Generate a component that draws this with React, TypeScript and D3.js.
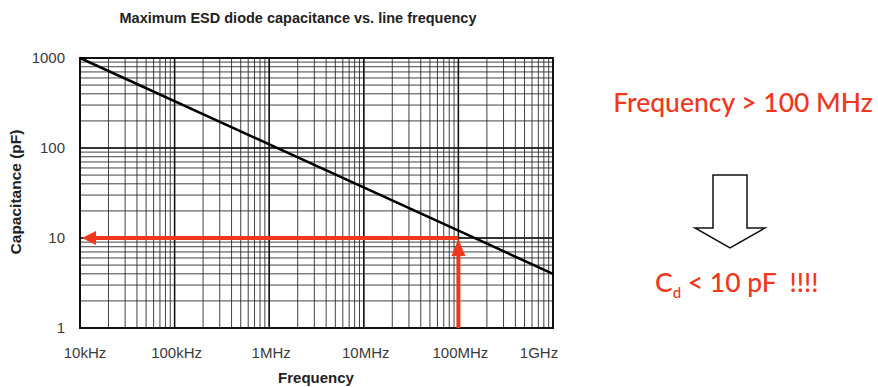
import React from "react";
import * as d3 from "d3";

const xTicks = [1e4, 1e5, 1e6, 1e7, 1e8, 1e9];
const xTickLabels = ["10kHz", "100kHz", "1MHz", "10MHz", "100MHz", "1GHz"];
const yTicks = [1, 10, 100, 1000];
const yTickLabels = ["1", "10", "100", "1000"];

// max capacitance line
const curveFreq = [1e4, 1e9];
const curveCap = [1000, 4];

// red marker: 100 MHz -> 10 pF
const markerFreq = 1e8;
const markerCap = 10;

const W = 878;
const H = 387;
const margin = { top: 58, right: 325, bottom: 59, left: 80 };
const RED = "#f0371c";

const App = () => {
  const x = d3.scaleLog().domain([1e4, 1e9]).range([margin.left, W - margin.right]);
  const y = d3.scaleLog().domain([1, 1000]).range([H - margin.bottom, margin.top]);

  const xMinor = x.ticks();
  const yMinor = y.ticks();

  const line = d3
    .line<number>()
    .x((_, i) => x(curveFreq[i]))
    .y((d) => y(d));

  const mx = x(markerFreq);
  const my = y(markerCap);
  const x0 = x.range()[0];
  const yBottom = y.range()[0];

  return (
    <svg width={W} height={H} style={{ position: "absolute", left: 0, top: 0 }} fontFamily="'Liberation Sans', Arial, sans-serif">
      <rect width={W} height={H} fill="#fff" />
      <text x={298} y={23} textAnchor="middle" fontSize={14.5} fontWeight="bold" fill="#222">
        Maximum ESD diode capacitance vs. line frequency
      </text>

      {/* grid */}
      {xMinor.map((d, i) => (
        <line key={"gx" + i} x1={x(d)} x2={x(d)} y1={margin.top} y2={yBottom} stroke="#222" strokeWidth={1} strokeOpacity={0.85} />
      ))}
      {yMinor.map((d, i) => (
        <line key={"gy" + i} x1={x0} x2={x.range()[1]} y1={y(d)} y2={y(d)} stroke="#222" strokeWidth={1} strokeOpacity={0.85} />
      ))}
      {xTicks.map((d, i) => (
        <line key={"mx" + i} x1={x(d)} x2={x(d)} y1={margin.top} y2={yBottom} stroke="#111" strokeWidth={1.5} />
      ))}
      {yTicks.map((d, i) => (
        <line key={"my" + i} x1={x0} x2={x.range()[1]} y1={y(d)} y2={y(d)} stroke="#111" strokeWidth={1.5} />
      ))}
      <rect x={x0} y={margin.top} width={x.range()[1] - x0} height={yBottom - margin.top} fill="none" stroke="#111" strokeWidth={2} />

      {/* curve */}
      <path d={line(curveCap) || ""} fill="none" stroke="#000" strokeWidth={2.5} />

      {/* red arrows */}
      <line x1={mx} x2={x0 + 14} y1={my} y2={my} stroke={RED} strokeWidth={4} />
      <path d={`M${x0 + 2},${my} L${x0 + 16},${my - 7} L${x0 + 16},${my + 7} Z`} fill={RED} />
      <line x1={mx} x2={mx} y1={yBottom} y2={my + 16} stroke={RED} strokeWidth={4} />
      <path d={`M${mx},${my + 1} L${mx - 7},${my + 18} L${mx + 7},${my + 18} Z`} fill={RED} />

      {/* tick labels */}
      {xTicks.map((d, i) => (
        <text key={"xl" + i} x={i === xTicks.length - 1 ? x(d) - 14 : x(d) + (i === 0 ? 5 : 2)} y={yBottom + 30} textAnchor="middle" fontSize={15} fill="#3a3a3a">
          {xTickLabels[i]}
        </text>
      ))}
      {yTicks.map((d, i) => (
        <text key={"yl" + i} x={x0 - 15} y={y(d) + 5} textAnchor="end" fontSize={15} fill="#3a3a3a">
          {yTickLabels[i]}
        </text>
      ))}

      <text x={316} y={383} textAnchor="middle" fontSize={15} fontWeight="bold" fill="#222">
        Frequency
      </text>
      <text transform={`translate(21,192) rotate(-90)`} textAnchor="middle" fontSize={15.5} fontWeight="bold" fill="#222">
        Capacitance (pF)
      </text>

      {/* annotation */}
      <text x={743} y={112} textAnchor="middle" fontSize={26.5} fontWeight={500} fill={RED} fontFamily="Lato, 'Open Sans', sans-serif">
        Frequency &gt; 100 MHz
      </text>
      <path d="M713,175 L747,175 L747,228 L765,228 L730,248 L695,228 L713,228 Z" fill="#fff" stroke="#111" strokeWidth={1.5} strokeLinejoin="miter" />
      <text x={655} y={292} fontSize={26.5} fontWeight={500} fill={RED} fontFamily="Lato, 'Open Sans', sans-serif" style={{ whiteSpace: "pre" }}>
        C<tspan fontSize={15} dy={6}>d</tspan>
        <tspan dy={-6}>{" < 10 pF\u00a0\u00a0!!!!"}</tspan>
      </text>
    </svg>
  );
};

export default App;
